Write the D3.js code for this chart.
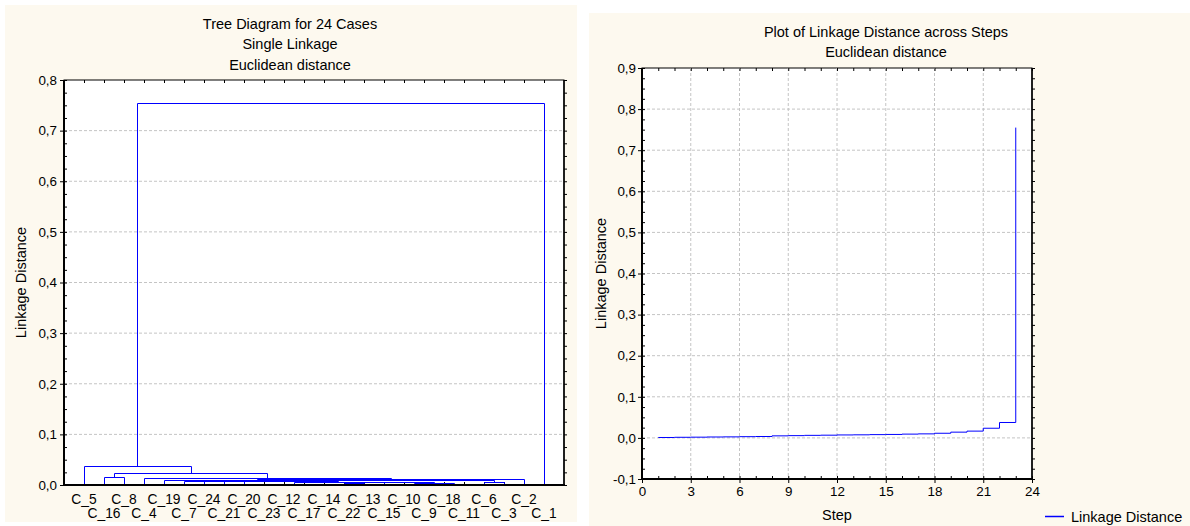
<!DOCTYPE html>
<html>
<head>
<meta charset="utf-8">
<script src="https://cdn.jsdelivr.net/npm/d3@7"></script>
<style>
  body { margin: 0; background: #fff; }
  svg { display: block; font-family: "Liberation Sans", Arial, sans-serif; font-size: 14.5px; }
  .grid line { stroke: #c4c4c4; stroke-dasharray: 3,2; }
  .axis path { display: none; }
  .axis line { stroke: #000; }
  .axis text { fill: #000; font-size: 13.4px; font-family: "Liberation Sans", Arial, sans-serif; }
  .leaf { font-size: 13.8px; }
</style>
</head>
<body>
<svg id="chart" width="1190" height="526"></svg>
<script>
// ---------------------------------------------------------
// Data
// ---------------------------------------------------------
const leafLabels = ["C_5","C_16","C_8","C_4","C_19","C_7","C_24","C_21","C_20","C_23","C_12","C_17",
  "C_14","C_22","C_13","C_15","C_10","C_9","C_18","C_11","C_6","C_3","C_2","C_1"];

// merges in step order: [left, right, linkage distance]; "#n" = cluster from step n
const merges = [
  ["C_23", "C_12", 0.0010],
  ["C_10", "C_9", 0.0015],
  ["C_17", "C_14", 0.0018],
  ["C_18", "C_11", 0.0022],
  ["#1", "#3", 0.0025],
  ["C_22", "C_13", 0.0030],
  ["#2", "#4", 0.0034],
  ["C_15", "#7", 0.0050],
  ["C_6", "C_3", 0.0055],
  ["#6", "#8", 0.0062],
  ["#5", "#10", 0.0066],
  ["C_20", "#11", 0.0072],
  ["C_21", "#12", 0.0075],
  ["C_24", "#13", 0.0080],
  ["C_7", "#14", 0.0084],
  ["#15", "#9", 0.0092],
  ["C_19", "#16", 0.0098],
  ["#17", "C_2", 0.0113],
  ["C_4", "#18", 0.0140],
  ["C_16", "C_8", 0.0165],
  ["#20", "#19", 0.0235],
  ["C_5", "#21", 0.0375],
  ["#22", "C_1", 0.7550]
];

const steps = merges.map((m, i) => i + 1);
const stepDistance = merges.map(m => m[2]);

const treeTitles = ["Tree Diagram for 24 Cases", "Single Linkage", "Euclidean distance"];
const stepTitles = ["Plot of Linkage Distance across Steps", "Euclidean distance"];
const treeYTicks = d3.range(0, 9).map(i => i / 10);
const stepYTicks = d3.range(-1, 10).map(i => i / 10);
const stepXTicks = d3.range(0, 25, 3);

const fmt = d3.formatLocale({ decimal: ",", thousands: " ", grouping: [3], currency: ["", ""], minus: "-" }).format(".1f");

const svg = d3.select("#chart");
const blue = "#0000ff";
const cream = "#fdf9ef";

// ---------------------------------------------------------
// helpers
// ---------------------------------------------------------
function frame(g, x0, x1, y0, y1) {
  g.append("rect").attr("x", x0).attr("y", y1).attr("width", x1 - x0).attr("height", y0 - y1)
    .attr("fill", "#fff").attr("stroke", "#000").attr("stroke-width", 1);
}
function thickSides(g, x0, x1, y0, y1) {
  g.append("line").attr("x1", x0).attr("x2", x0).attr("y1", y1).attr("y2", y0 + 1)
    .attr("stroke", "#000").attr("stroke-width", 2);
  g.append("line").attr("x1", x0 - 1).attr("x2", x1 + 1).attr("y1", y0).attr("y2", y0)
    .attr("stroke", "#000").attr("stroke-width", 2);
  g.append("line").attr("x1", x1).attr("x2", x1).attr("y1", y1).attr("y2", y0)
    .attr("stroke", "#000").attr("stroke-width", 1.5);
}

// ---------------------------------------------------------
// Left: tree diagram
// ---------------------------------------------------------
const left = svg.append("g");
left.append("rect").attr("x", 5).attr("y", 5).attr("width", 572).attr("height", 517).attr("fill", cream);

const xL = d3.scaleLinear().domain([0, leafLabels.length + 1]).range([64, 564]);
const yL = d3.scaleLinear().domain([0, 0.8]).range([485, 80]);

frame(left, 64, 564, 485, 80);

left.append("g").attr("class", "grid")
  .selectAll("line").data(treeYTicks.filter(d => d > 0 && d < 0.8)).join("line")
  .attr("x1", 64).attr("x2", 564).attr("y1", d => yL(d)).attr("y2", d => yL(d));

left.selectAll("text.ttl").data(treeTitles).join("text").attr("class", "ttl")
  .attr("x", 290).attr("y", (d, i) => 29 + i * 20.3).attr("text-anchor", "middle").text(d => d);

left.append("g").attr("class", "axis").attr("transform", "translate(64,0)")
  .call(d3.axisLeft(yL).tickValues(treeYTicks).tickFormat(fmt).tickSize(4).tickPadding(3));
left.append("g").attr("class", "axis").attr("transform", "translate(64,0)")
  .call(d3.axisRight(yL).tickValues(d3.range(0, 33).map(i => i * 0.025)).tickFormat("").tickSize(3));
left.append("g").attr("class", "axis").attr("transform", "translate(564,0)")
  .call(d3.axisRight(yL).tickValues(d3.range(0, 33).map(i => i * 0.025)).tickFormat("").tickSize(3));

const leafPos = leafLabels.map((d, i) => i + 1);
left.append("g").attr("class", "axis").attr("transform", "translate(0,80)")
  .call(d3.axisTop(xL).tickValues(leafPos).tickFormat("").tickSize(-3));
left.append("g").attr("class", "axis").attr("transform", "translate(0,485)")
  .call(d3.axisBottom(xL).tickValues(leafPos).tickFormat("").tickSize(-3));

left.append("text").attr("transform", `translate(26,${yL(0.4)}) rotate(-90)`)
  .attr("text-anchor", "middle").text("Linkage Distance");

left.selectAll("text.leaf").data(leafLabels).join("text").attr("class", "leaf")
  .attr("x", (d, i) => xL(i + 1)).attr("y", (d, i) => i % 2 === 0 ? 504 : 518)
  .attr("text-anchor", "middle").text(d => d);

// cluster layout: node x = mean of its two children
const nodes = {};
leafLabels.forEach((d, i) => { nodes[d] = { x: i + 1, h: 0 }; });
const links = [];
merges.forEach((m, i) => {
  const a = nodes[m[0]], b = nodes[m[1]];
  nodes["#" + (i + 1)] = { x: (a.x + b.x) / 2, h: m[2] };
  links.push({ a, b, h: m[2] });
});

left.append("g").attr("fill", "none").attr("stroke", blue).attr("stroke-width", 1)
  .selectAll("path").data(links).join("path")
  .attr("d", d => {
    const xa = Math.round(xL(d.a.x)) + 0.5, xb = Math.round(xL(d.b.x)) + 0.5;
    const ya = Math.round(yL(d.a.h)) + 0.5, yb = Math.round(yL(d.b.h)) + 0.5, y = Math.round(yL(d.h)) + 0.5;
    return `M${xa},${ya}V${y}H${xb}V${yb}`;
  });

// ---------------------------------------------------------
// Right: linkage distance across steps
// ---------------------------------------------------------
const right = svg.append("g");
right.append("rect").attr("x", 589).attr("y", 13).attr("width", 601).attr("height", 513).attr("fill", cream);

const xR = d3.scaleLinear().domain([0, 24]).range([642, 1032]);
const yR = d3.scaleLinear().domain([-0.1, 0.9]).range([479, 68]);

frame(right, 642, 1032, 479, 68);

const gridR = right.append("g").attr("class", "grid");
gridR.selectAll("line.h").data(stepYTicks.filter(d => d > -0.1 && d < 0.9)).join("line").attr("class", "h")
  .attr("x1", 642).attr("x2", 1032).attr("y1", d => yR(d)).attr("y2", d => yR(d));
gridR.selectAll("line.v").data(stepXTicks.filter(d => d > 0 && d < 24)).join("line").attr("class", "v")
  .attr("y1", 68).attr("y2", 479).attr("x1", d => xR(d)).attr("x2", d => xR(d));

right.selectAll("text.ttl").data(stepTitles).join("text").attr("class", "ttl")
  .attr("x", 886).attr("y", (d, i) => 37 + i * 20).attr("text-anchor", "middle").text(d => d);

const minorY = d3.range(-4, 37).map(i => i * 0.025);
right.append("g").attr("class", "axis").attr("transform", "translate(642,0)")
  .call(d3.axisLeft(yR).tickValues(stepYTicks).tickFormat(fmt).tickSize(4).tickPadding(2));
right.append("g").attr("class", "axis").attr("transform", "translate(642,0)")
  .call(d3.axisRight(yR).tickValues(minorY).tickFormat("").tickSize(3));
right.append("g").attr("class", "axis").attr("transform", "translate(1032,0)")
  .call(d3.axisRight(yR).tickValues(minorY).tickFormat("").tickSize(3));
right.append("g").attr("class", "axis").attr("transform", "translate(0,479)")
  .call(d3.axisBottom(xR).tickValues(stepXTicks).tickFormat(d3.format("d")).tickSize(4).tickPadding(3));
right.append("g").attr("class", "axis").attr("transform", "translate(0,479)")
  .call(d3.axisTop(xR).tickValues(d3.range(0, 25)).tickFormat("").tickSize(3));
right.append("g").attr("class", "axis").attr("transform", "translate(0,68)")
  .call(d3.axisBottom(xR).tickValues(d3.range(0, 25)).tickFormat("").tickSize(3));

right.append("text").attr("transform", `translate(606,${yR(0.4)}) rotate(-90)`)
  .attr("text-anchor", "middle").text("Linkage Distance");
right.append("text").attr("x", xR(12)).attr("y", 520).attr("text-anchor", "middle").text("Step");

const line = d3.line().x(d => xR(d[0])).y(d => yR(d[1])).curve(d3.curveStepAfter);
right.append("path").datum(steps.map((s, i) => [s, stepDistance[i]]))
  .attr("fill", "none").attr("stroke", blue).attr("stroke-width", 1).attr("d", line);

// legend
right.append("line").attr("x1", 1045).attr("x2", 1064).attr("y1", 516.5).attr("y2", 516.5)
  .attr("stroke", blue).attr("stroke-width", 1.5);
right.append("text").attr("x", 1071).attr("y", 521.5).text("Linkage Distance");

thickSides(left, 64, 564, 485, 80);
thickSides(right, 642, 1032, 479, 68);
</script>
</body>
</html>
